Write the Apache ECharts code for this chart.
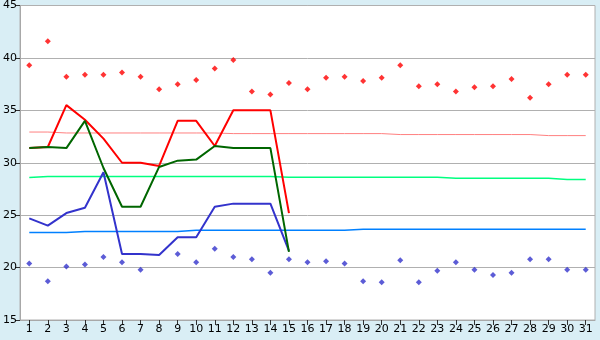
<!DOCTYPE html>
<html>
<head>
<meta charset="utf-8">
<script src="https://cdn.jsdelivr.net/npm/echarts@6/dist/echarts.min.js"></script>
<style>
html,body{margin:0;padding:0;background:#d9eef5;}
#c{width:600px;height:340px;}
</style>
</head>
<body>
<div id="c"></div>
<script>
var days = ['1','2','3','4','5','6','7','8','9','10','11','12','13','14','15','16','17','18','19','20','21','22','23','24','25','26','27','28','29','30','31'];
var yTicks = [15, 20, 25, 30, 35, 40, 45];

var maxPoints = [39.3,41.6,38.2,38.4,38.4,38.6,38.2,37.0,37.5,37.9,39.0,39.8,36.8,36.5,37.6,37.0,38.1,38.2,37.8,38.1,39.3,37.3,37.5,36.8,37.2,37.3,38.0,36.2,37.5,38.4,38.4];
var minPoints = [20.4,18.7,20.1,20.3,21.0,20.5,19.8,null,21.3,20.5,21.8,21.0,20.8,19.5,20.8,20.5,20.6,20.4,18.7,18.6,20.7,18.6,19.7,20.5,19.8,19.3,19.5,20.8,20.8,19.8,19.8];

var redLine   = [31.4,31.5,35.5,34.1,32.3,30.0,30.0,29.7,34.0,34.0,31.6,35.0,35.0,35.0,25.2];
var greenLine = [31.4,31.5,31.4,34.0,29.5,25.8,25.8,29.6,30.2,30.3,31.6,31.4,31.4,31.4,21.5];
var blueLine  = [24.7,24.0,25.2,25.7,29.1,21.3,21.3,21.2,22.9,22.9,25.8,26.1,26.1,26.1,21.6];

var pinkNormal  = [32.93,32.93,32.84,32.84,32.84,32.84,32.84,32.84,32.84,32.84,32.84,32.78,32.78,32.78,32.78,32.78,32.78,32.78,32.78,32.78,32.69,32.69,32.69,32.69,32.69,32.69,32.69,32.69,32.59,32.59,32.59];
var greenNormal = [28.59,28.69,28.69,28.69,28.69,28.69,28.69,28.69,28.69,28.69,28.69,28.69,28.69,28.69,28.62,28.62,28.62,28.62,28.62,28.62,28.62,28.62,28.62,28.52,28.52,28.52,28.52,28.52,28.52,28.40,28.40];
var blueNormal  = [23.35,23.35,23.35,23.45,23.45,23.45,23.45,23.45,23.45,23.55,23.55,23.55,23.55,23.55,23.55,23.55,23.55,23.55,23.65,23.65,23.65,23.65,23.65,23.65,23.65,23.65,23.65,23.65,23.65,23.65,23.65];

var chart = echarts.init(document.getElementById('c'), null, {renderer: 'canvas'});
var font = 'DejaVu Sans';
function lineSeries(data, color, width, z) {
  return {
    type: 'line', data: data, showSymbol: false, symbol: 'none', z: z,
    lineStyle: {color: color, width: width}, itemStyle: {color: color},
    silent: true, connectNulls: false
  };
}
chart.setOption({
  animation: false,
  backgroundColor: '#d9eef5',
  grid: {left: 20, right: 5, top: 5, bottom: 20, show: true, backgroundColor: '#ffffff', borderColor: '#b0b0b0', borderWidth: 1},
  xAxis: {
    type: 'category', data: days, boundaryGap: true,
    axisLine: {show: true, lineStyle: {color: '#a8a8a8', width: 1}},
    axisTick: {show: true, alignWithLabel: true, length: 5, lineStyle: {color: '#303030'}},
    axisLabel: {color: '#000', fontFamily: font, fontSize: 11, margin: 4, interval: 0},
    splitLine: {show: false}
  },
  yAxis: {
    type: 'value', min: yTicks[0], max: yTicks[yTicks.length - 1], interval: 5,
    axisLine: {show: true, lineStyle: {color: '#a8a8a8', width: 1}},
    axisTick: {show: true, length: 5, lineStyle: {color: '#303030'}},
    axisLabel: {color: '#000', fontFamily: font, fontSize: 11, margin: 3},
    splitLine: {show: true, lineStyle: {color: '#b0b0b0', width: 1}}
  },
  series: [
    {type: 'scatter', data: maxPoints, symbol: 'diamond', symbolSize: 6, itemStyle: {color: '#ff0000'}, z: 2},
    {type: 'scatter', data: minPoints, symbol: 'diamond', symbolSize: 6, itemStyle: {color: '#3333cc'}, z: 2},
    lineSeries(pinkNormal, '#ff8080', 1, 3),
    lineSeries(greenNormal, '#00ff80', 1.5, 3),
    lineSeries(blueNormal, '#0080ff', 1.5, 3),
    lineSeries(redLine, '#ff0000', 2, 4),
    lineSeries(blueLine, '#3333cc', 2, 4),
    lineSeries(greenLine, '#006600', 2, 4)
  ]
});
</script>
</body>
</html>
